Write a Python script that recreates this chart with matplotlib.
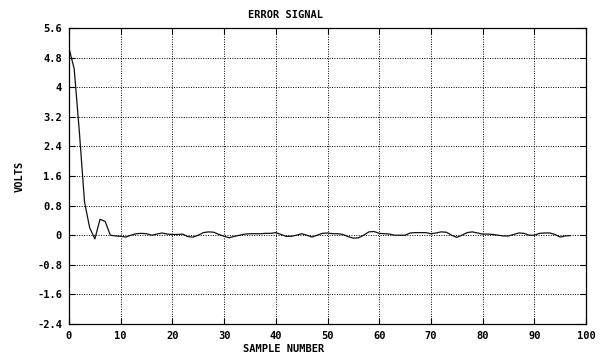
import numpy as np
import matplotlib
matplotlib.use("Agg")
import matplotlib.pyplot as plt

# Error signal per sample
sample_number = list(range(0, 98))
error_volts = [
    5.05, 4.5, 2.8, 0.9, 0.2, -0.1, 0.43, 0.37, 0.0, -0.02,
    -0.03, -0.05, 0.0, 0.04, 0.05, 0.04, 0.0, 0.03, 0.06, 0.03,
    0.02, 0.02, 0.03, -0.04, -0.05, 0.0, 0.07, 0.09, 0.08, 0.02,
    -0.03, -0.07, -0.03, 0.0, 0.03, 0.04, 0.04, 0.04, 0.05, 0.05,
    0.07, 0.02, -0.03, -0.03, 0.0, 0.04, 0.0, -0.05, 0.0, 0.05,
    0.06, 0.04, 0.04, 0.02, -0.04, -0.08, -0.07, 0.0, 0.09, 0.1,
    0.05, 0.04, 0.03, 0.0, 0.0, 0.0, 0.06, 0.07, 0.07, 0.07,
    0.04, 0.06, 0.09, 0.08, 0.0, -0.06, 0.0, 0.07, 0.09, 0.06,
    0.03, 0.03, 0.02, 0.0, -0.02, -0.02, 0.02, 0.06, 0.05, 0.0,
    0.0, 0.05, 0.06, 0.06, 0.02, -0.05, -0.02, -0.01,
]

x_ticks = [0, 10, 20, 30, 40, 50, 60, 70, 80, 90, 100]
y_ticks = [-2.4, -1.6, -0.8, 0, 0.8, 1.6, 2.4, 3.2, 4, 4.8, 5.6]
y_tick_labels = ["-2.4", "-1.6", "-0.8", "0", "0.8", "1.6", "2.4", "3.2", "4", "4.8", "5.6"]

FONT = dict(family="DejaVu Sans Mono", weight="bold", size=7.5)

fig = plt.figure(figsize=(6.02, 3.54), dpi=100)
ax = fig.add_axes([69 / 602, 1 - 324 / 354, (586 - 69) / 602, (324 - 28) / 354])

ax.plot(sample_number, error_volts, color="#111111", linewidth=0.9)

ax.set_xlim(0, 100)
ax.set_ylim(-2.4, 5.6)
ax.set_xticks(x_ticks)
ax.set_xticklabels([str(t) for t in x_ticks], fontdict=FONT)
ax.set_yticks(y_ticks)
ax.set_yticklabels(y_tick_labels, fontdict=FONT)

ax.grid(True, color="black", linestyle=(0, (1, 1.5)), linewidth=0.7)
ax.tick_params(direction="in", length=4, width=0.8, top=True, right=True,
               pad=5, colors="black")
for s in ax.spines.values():
    s.set_linewidth(0.9)
    s.set_color("black")

fig.text(285 / 602, 1 - 15 / 354, "ERROR SIGNAL", ha="center", va="center", **FONT)
fig.text(284 / 602, 1 - 349 / 354, "SAMPLE NUMBER", ha="center", va="center", **FONT)
fig.text(20 / 602, 1 - 176 / 354, "VOLTS", ha="center", va="center", rotation=90, **FONT)

fig.savefig("out.png", dpi=100)
